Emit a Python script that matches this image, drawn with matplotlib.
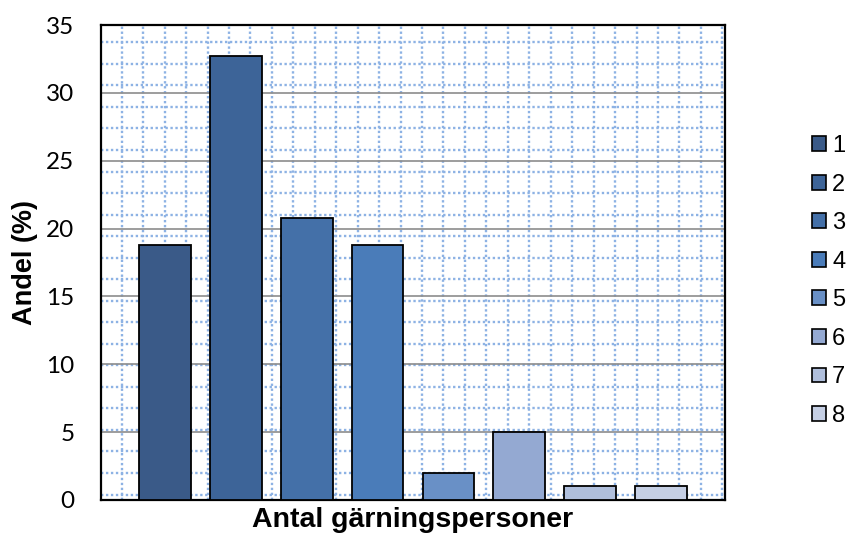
import numpy as np
import matplotlib.pyplot as plt
from matplotlib.patches import Patch

plt.rcParams['font.family'] = ['Liberation Sans', 'DejaVu Sans']

categories = ['1', '2', '3', '4', '5', '6', '7', '8']
values = [18.8, 32.7, 20.8, 18.8, 2.0, 5.0, 1.0, 1.0]
colors = ['#3a5a88', '#3d6498', '#4470a8', '#4a7cb9', '#6990c6',
          '#94a9d2', '#b0bfdc', '#c5cfe4']

fig = plt.figure(figsize=(8.47, 5.37), dpi=100)
ax = fig.add_axes([101/847, 37/537, 624/847, 475/537])

x = np.arange(len(categories))

# background pattern grid (dotted, not aligned to ticks)
for gx in np.arange(-0.608, 7.9, 0.3025):
    ax.axvline(gx, color='#8db2e4', linestyle=(0, (1, 1.1)), linewidth=1.7, zorder=0)
for gy in np.arange(0.4, 35, 1.587):
    ax.axhline(gy, color='#8db2e4', linestyle=(0, (1, 1.1)), linewidth=1.7, zorder=0)
for gy in range(5, 35, 5):
    ax.axhline(gy, color='#8c8c8c', linewidth=1.2, zorder=1)

ax.bar(x, values, width=0.73, color=colors, edgecolor='black', linewidth=1.3, zorder=3)

ax.set_xlim(-0.9, 7.9)
ax.set_ylim(0, 35)
ax.set_yticks(range(0, 36, 5))
ax.set_xticks([])
ax.tick_params(axis='y', length=0, pad=19)
for lbl in ax.get_yticklabels():
    lbl.set_fontfamily('Lato')
    lbl.set_fontsize(17.5)
for s in ax.spines.values():
    s.set_linewidth(1.6)
    s.set_color('black')

ax.set_ylabel('Andel (%)', fontsize=19.5, fontweight='bold', labelpad=6)
ax.set_xlabel('Antal gärningspersoner', fontsize=20.5, fontweight='bold', labelpad=5)

handles = [Patch(facecolor=c, edgecolor='black', linewidth=1.2) for c in colors]
fig.legend(handles, categories, loc='center left', bbox_to_anchor=(812/847, 1 - 281/537),
           frameon=False, fontsize=17, handlelength=0.6, handleheight=0.6,
           handletextpad=0.25, labelspacing=0.7, borderpad=0, borderaxespad=0)

fig.savefig('out.png', dpi=100)
